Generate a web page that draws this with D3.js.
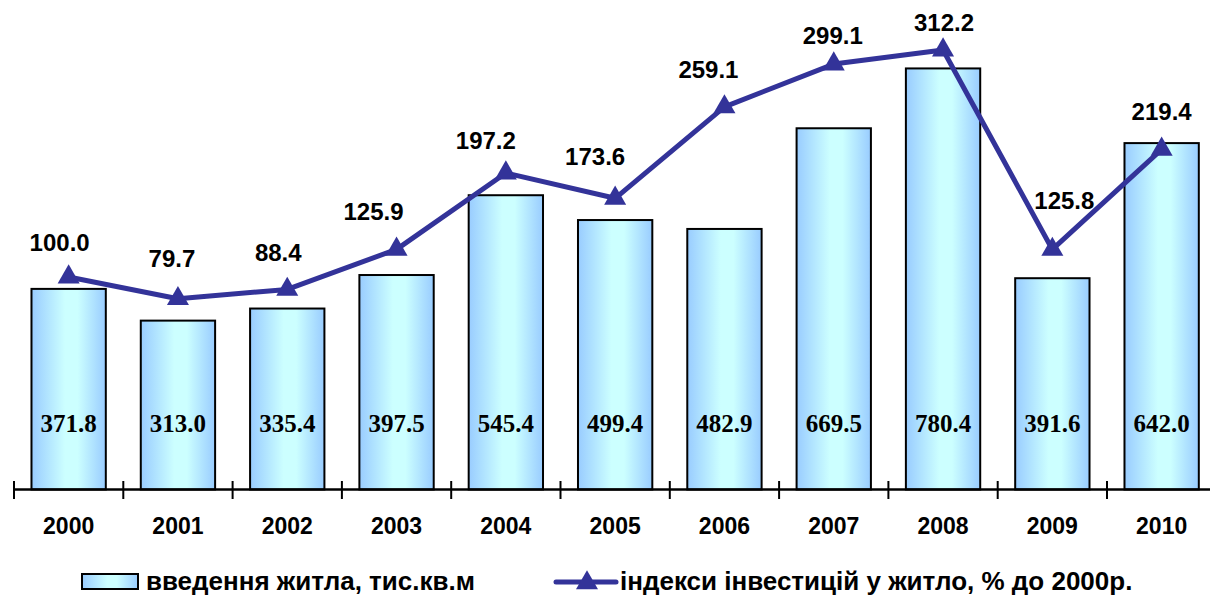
<!DOCTYPE html>
<html>
<head>
<meta charset="utf-8">
<script src="https://cdn.jsdelivr.net/npm/d3@7"></script>
<style>
  html, body { margin: 0; padding: 0; background: #fff; }
  svg { display: block; }
</style>
</head>
<body>
<svg id="chart" width="1210" height="597"></svg>
<script>
// ---- data ----
const years = ["2000","2001","2002","2003","2004","2005","2006","2007","2008","2009","2010"];
const housing = [371.8, 313.0, 335.4, 397.5, 545.4, 499.4, 482.9, 669.5, 780.4, 391.6, 642.0];
const investIndex = [100.0, 79.7, 88.4, 125.9, 197.2, 173.6, 259.1, 299.1, 312.2, 125.8, 219.4];
const seriesNames = ["введення житла, тис.кв.м", "індекси інвестицій у житло, % до 2000р."];
// label nudges (annotation placement, px) for the index labels
const labelNudgeX = [-9, -6, -9, -23, -20, -20, -16, -1, 1, 12, 0];
const labelNudgeY = [-35, -40, -37, -38, -33, -42, -37, -29, -28, -49, -38];

const svg = d3.select("#chart");
const W = 1210, H = 597;

const x = d3.scaleBand().domain(years).range([14, 1216.3]).paddingInner(0.32).paddingOuter(0.16);
const yBar = d3.scaleLinear().domain([0, 900]).range([489.5, 3.9]);
const yLine = d3.scaleLinear().domain([-100, 350]).range([491, 9.6]);

const defs = svg.append("defs");
const grad = defs.append("linearGradient").attr("id", "barGrad")
  .attr("x1", "0%").attr("x2", "100%").attr("y1", "0%").attr("y2", "0%");
grad.append("stop").attr("offset", "0%").attr("stop-color", "#99ccff");
grad.append("stop").attr("offset", "45%").attr("stop-color", "#ccffff");
grad.append("stop").attr("offset", "62%").attr("stop-color", "#ccffff");
grad.append("stop").attr("offset", "100%").attr("stop-color", "#99ccff");

// bars
svg.append("g").selectAll("rect").data(housing).join("rect")
  .attr("x", (d, i) => x(years[i]))
  .attr("y", d => yBar(d))
  .attr("width", x.bandwidth())
  .attr("height", d => yBar(0) - yBar(d))
  .attr("fill", "url(#barGrad)")
  .attr("stroke", "#000")
  .attr("stroke-width", 2);

// bar labels
svg.append("g").selectAll("text").data(housing).join("text")
  .attr("x", (d, i) => x(years[i]) + x.bandwidth() / 2)
  .attr("y", 432)
  .attr("text-anchor", "middle")
  .attr("font-family", "'Liberation Serif', 'Times New Roman', serif")
  .attr("font-weight", "bold")
  .attr("font-size", 25)
  .attr("fill", "#000")
  .text(d => d.toFixed(1));

// x axis
const axisG = svg.append("g");
axisG.append("line").attr("x1", 14).attr("x2", W).attr("y1", 489.5).attr("y2", 489.5)
  .attr("stroke", "#000").attr("stroke-width", 2.5);
const step = x.step();
const tickXs = years.map((y, i) => x(y) - x.paddingOuter() * step).concat([x(years[years.length-1]) + x.bandwidth() + x.paddingOuter() * step]);
axisG.selectAll("line.tick").data(tickXs.filter(t => t <= W)).join("line")
  .attr("class", "tick")
  .attr("x1", d => d).attr("x2", d => d)
  .attr("y1", 481).attr("y2", 499)
  .attr("stroke", "#000").attr("stroke-width", 2);
axisG.selectAll("text").data(years).join("text")
  .attr("x", d => x(d) + x.bandwidth() / 2)
  .attr("y", 534)
  .attr("text-anchor", "middle")
  .attr("font-family", "Arial, 'Liberation Sans', sans-serif")
  .attr("font-weight", "bold")
  .attr("font-size", 23)
  .text(d => d);

// line
const line = d3.line()
  .x((d, i) => x(years[i]) + x.bandwidth() / 2)
  .y(d => yLine(d));
svg.append("path").datum(investIndex)
  .attr("d", line)
  .attr("fill", "none")
  .attr("stroke", "#333399")
  .attr("stroke-width", 5)
  .attr("stroke-linejoin", "round");

const tri = d3.symbol().type(d3.symbolTriangle).size(210);
svg.append("g").selectAll("path").data(investIndex).join("path")
  .attr("transform", (d, i) => `translate(${x(years[i]) + x.bandwidth() / 2},${yLine(d)})`)
  .attr("d", tri)
  .attr("fill", "#333399");

svg.append("g").selectAll("text").data(investIndex).join("text")
  .attr("x", (d, i) => x(years[i]) + x.bandwidth() / 2 + labelNudgeX[i])
  .attr("y", (d, i) => yLine(d) + labelNudgeY[i] + 8.5)
  .attr("text-anchor", "middle")
  .attr("font-family", "Arial, 'Liberation Sans', sans-serif")
  .attr("font-weight", "bold")
  .attr("font-size", 24)
  .text(d => d.toFixed(1));

// legend
const lg = svg.append("g");
lg.append("rect").attr("x", 82).attr("y", 574).attr("width", 56).attr("height", 15)
  .attr("fill", "url(#barGrad)").attr("stroke", "#000").attr("stroke-width", 2);
lg.append("text").attr("x", 146).attr("y", 590)
  .attr("font-family", "Arial, 'Liberation Sans', sans-serif")
  .attr("font-weight", "bold").attr("font-size", 26)
  .text(seriesNames[0]);
lg.append("line").attr("x1", 556).attr("x2", 616).attr("y1", 582).attr("y2", 582)
  .attr("stroke", "#333399").attr("stroke-width", 5).attr("stroke-linecap", "round");
lg.append("path").attr("transform", "translate(587,583)").attr("d", tri).attr("fill", "#333399");
lg.append("text").attr("x", 620).attr("y", 590)
  .attr("font-family", "Arial, 'Liberation Sans', sans-serif")
  .attr("font-weight", "bold").attr("font-size", 26)
  .text(seriesNames[1]);
</script>
</body>
</html>
